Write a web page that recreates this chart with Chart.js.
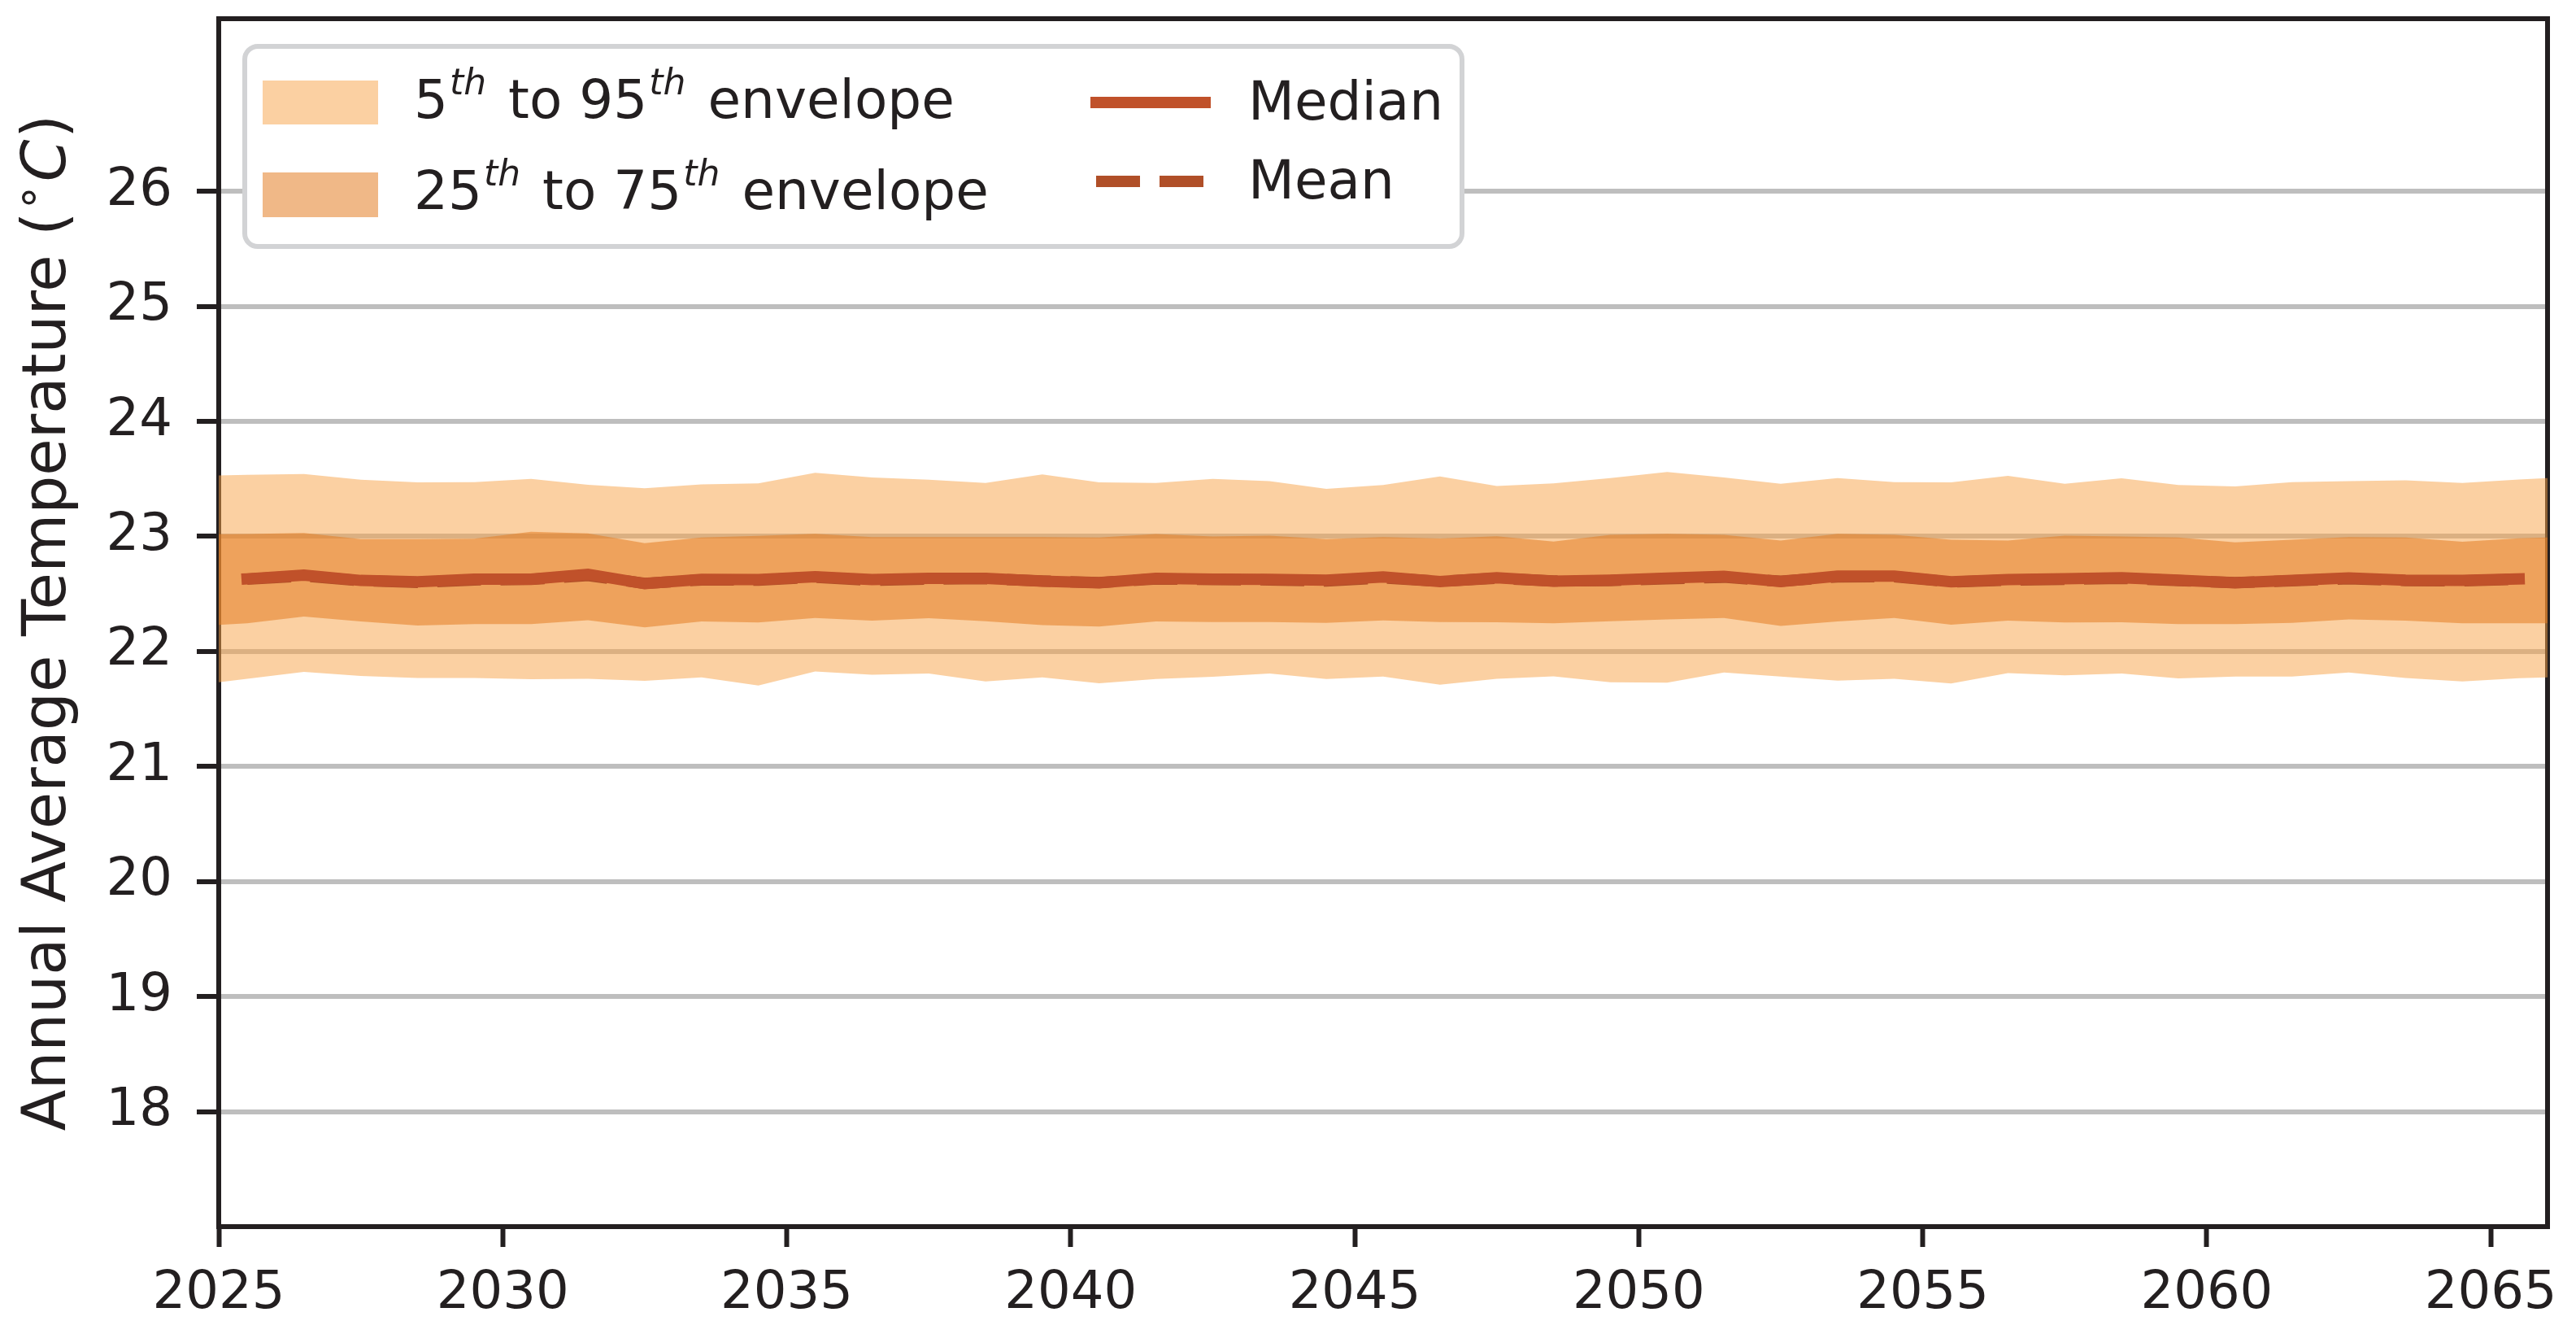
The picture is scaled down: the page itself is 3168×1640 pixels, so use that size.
<!DOCTYPE html>
<html>
<head>
<meta charset="utf-8">
<script src="https://cdn.jsdelivr.net/npm/chart.js@4.4.1/dist/chart.umd.min.js"></script>
<style>
  html, body { margin: 0; padding: 0; background: #fff; }
  canvas { display: block; }
</style>
</head>
<body>
<canvas id="myChart" width="3168" height="1640" style="width:3168px;height:1640px"></canvas>
<script>
const ctx = document.getElementById('myChart');

// years of the projection (values sit at mid-year)
const years = [2025, 2026, 2027, 2028, 2029, 2030, 2031, 2032, 2033, 2034,
  2035, 2036, 2037, 2038, 2039, 2040, 2041, 2042, 2043, 2044,
  2045, 2046, 2047, 2048, 2049, 2050, 2051, 2052, 2053, 2054,
  2055, 2056, 2057, 2058, 2059, 2060, 2061, 2062, 2063, 2064, 2065];

// envelopes: value at the left edge, one per year, value at the right edge
const p95 = [23.53, 23.535, 23.542, 23.493, 23.469, 23.472, 23.50, 23.448, 23.418, 23.452, 23.46,
  23.552, 23.512, 23.493, 23.465, 23.538, 23.469, 23.465, 23.50, 23.481, 23.413,
  23.446, 23.521, 23.437, 23.46, 23.507, 23.559, 23.512, 23.458, 23.507, 23.472,
  23.469, 23.526, 23.458, 23.505, 23.446, 23.434, 23.472, 23.481, 23.488, 23.465, 23.495, 23.507];
const p75 = [23.019, 23.02, 23.03, 22.977, 22.977, 22.98, 23.04, 23.026, 22.941, 22.99, 23.005,
  23.023, 22.995, 22.995, 22.995, 22.995, 22.99, 23.02, 23.0, 23.007, 22.977,
  22.995, 22.981, 23.002, 22.955, 23.014, 23.023, 23.014, 22.965, 23.023, 23.014,
  22.972, 22.965, 23.007, 23.0, 22.99, 22.948, 22.972, 22.995, 22.99, 22.953, 22.984, 22.99];
const p25 = [22.23, 22.244, 22.303, 22.261, 22.225, 22.237, 22.237, 22.272, 22.209, 22.26, 22.251,
  22.291, 22.268, 22.289, 22.263, 22.228, 22.216, 22.261, 22.256, 22.256, 22.249,
  22.27, 22.256, 22.254, 22.244, 22.263, 22.279, 22.291, 22.221, 22.261, 22.291,
  22.232, 22.268, 22.251, 22.254, 22.237, 22.237, 22.249, 22.279, 22.268, 22.244, 22.244, 22.244];
const p5 = [21.732, 21.763, 21.822, 21.786, 21.77, 21.77, 21.758, 21.763, 21.744, 21.775, 21.704,
  21.826, 21.798, 21.808, 21.739, 21.775, 21.723, 21.76, 21.779, 21.808, 21.761,
  21.782, 21.711, 21.763, 21.784, 21.732, 21.728, 21.817, 21.782, 21.746, 21.763,
  21.721, 21.812, 21.793, 21.808, 21.765, 21.782, 21.782, 21.817, 21.77, 21.739, 21.768, 21.775];

const median = [22.631, 22.664, 22.617, 22.606, 22.629, 22.629, 22.671, 22.589, 22.626, 22.624,
  22.65, 22.624, 22.636, 22.636, 22.61, 22.596, 22.635, 22.629, 22.627, 22.62,
  22.648, 22.608, 22.641, 22.61, 22.62, 22.638, 22.653, 22.608, 22.655, 22.655,
  22.606, 22.624, 22.631, 22.641, 22.62, 22.596, 22.617, 22.638, 22.62, 22.617, 22.631];
const mean = [22.628, 22.655, 22.615, 22.600, 22.622, 22.626, 22.660, 22.592, 22.622, 22.620,
  22.645, 22.618, 22.630, 22.633, 22.612, 22.598, 22.630, 22.624, 22.622, 22.612,
  22.640, 22.610, 22.636, 22.612, 22.616, 22.632, 22.645, 22.610, 22.648, 22.650,
  22.604, 22.620, 22.626, 22.636, 22.616, 22.598, 22.614, 22.632, 22.616, 22.614, 22.628];

const xTicks = [2025, 2030, 2035, 2040, 2045, 2050, 2055, 2060, 2065];
const yTicks = [18, 19, 20, 21, 22, 23, 24, 25, 26];

const FONT = '"DejaVu Sans", Verdana, sans-serif';
const INK = '#231f20';
const outerColor = 'rgba(247, 162, 70, 0.5)';
const innerColor = 'rgba(228, 126, 37, 0.55)';
const medianColor = '#c0512a';
const meanColor = '#b04f28';

const bandYears = [years[0], ...years.map(y => y + 0.5), years[years.length - 1] + 1];
const band = vals => bandYears.map((x, i) => ({ x: x, y: vals[i] }));
const line = vals => years.map((y, i) => ({ x: y + 0.5, y: vals[i] }));

// frame round the plot area
const framePlugin = {
    id: 'frame',
    beforeDatasetsDraw(chart) {
        const a = chart.chartArea, c = chart.ctx;
        c.save();
        c.strokeStyle = INK;
        c.lineWidth = 6;
        c.strokeRect(a.left, a.top, a.right - a.left, a.bottom - a.top);
        c.restore();
    }
};

// draw a run of text pieces, returns end x
function drawRuns(c, runs, x, y) {
    runs.forEach(r => {
        c.font = r.font;
        x += r.before || 0;
        c.fillText(r.t, x, y - (r.raise || 0));
        x += c.measureText(r.t).width + (r.after || 0);
    });
    return x;
}
function runsWidth(c, runs) {
    let w = 0;
    runs.forEach(r => {
        c.font = r.font;
        w += (r.before || 0) + c.measureText(r.t).width + (r.after || 0);
    });
    return w;
}

// y axis title with italic C
const titlePlugin = {
    id: 'ytitle',
    afterDraw(chart) {
        const a = chart.chartArea, c = chart.ctx;
        const runs = [
            { t: 'Annual Average Temperature (', font: '74px ' + FONT },
            { t: '°', font: '55px ' + FONT, raise: 12, before: 4, after: 6 },
            { t: 'C', font: 'italic 74px ' + FONT },
            { t: ')', font: '74px ' + FONT, before: 2 }
        ];
        c.save();
        c.translate(80, (a.top + a.bottom) / 2);
        c.rotate(-Math.PI / 2);
        c.fillStyle = INK;
        c.textBaseline = 'alphabetic';
        c.textAlign = 'left';
        drawRuns(c, runs, -runsWidth(c, runs) / 2, 0);
        c.restore();
    }
};

// legend in the upper left corner, two columns
const legendPlugin = {
    id: 'boxLegend',
    afterDraw(chart) {
        const a = chart.chartArea, c = chart.ctx;
        const x0 = a.left + 32, y0 = a.top + 34;
        c.save();
        c.beginPath();
        c.roundRect(x0, y0, 1497, 246, 16);
        c.fillStyle = '#ffffff';
        c.fill();
        c.lineWidth = 6;
        c.strokeStyle = '#d2d3d5';
        c.stroke();

        c.fillStyle = outerColor;
        c.fillRect(x0 + 22, y0 + 42, 142, 54);
        c.fillStyle = innerColor;
        c.fillRect(x0 + 22, y0 + 155, 142, 55);

        const reg = '66px ' + FONT, sup = 'italic 44px ' + FONT;
        const th = { t: 'th', font: sup, raise: 29, before: 2, after: 6 };
        c.fillStyle = INK;
        c.textBaseline = 'alphabetic';
        c.textAlign = 'left';
        drawRuns(c, [{ t: '5', font: reg }, th, { t: ' to 95', font: reg }, th,
            { t: ' envelope', font: reg }], x0 + 208, y0 + 88);
        drawRuns(c, [{ t: '25', font: reg }, th, { t: ' to 75', font: reg }, th,
            { t: ' envelope', font: reg }], x0 + 208, y0 + 200);

        c.lineWidth = 14;
        c.strokeStyle = medianColor;
        c.lineCap = 'square';
        c.beginPath();
        c.moveTo(x0 + 1047, y0 + 69);
        c.lineTo(x0 + 1181, y0 + 69);
        c.stroke();
        c.strokeStyle = meanColor;
        c.lineCap = 'butt';
        c.setLineDash([54, 24]);
        c.beginPath();
        c.moveTo(x0 + 1047, y0 + 166);
        c.lineTo(x0 + 1181, y0 + 166);
        c.stroke();
        c.setLineDash([]);

        c.font = reg;
        c.fillText('Median', x0 + 1234, y0 + 90);
        c.fillText('Mean', x0 + 1234, y0 + 187);
        c.restore();
    }
};

// no extra room for half-labels at the scale ends
const noEndPadding = s => {
    s.paddingTop = 0;
    s.paddingBottom = 0;
    s.paddingLeft = 0;
    s.paddingRight = 0;
};

new Chart(ctx, {
    type: 'line',
    data: {
        datasets: [
            { label: '5th to 95th envelope', data: band(p95), fill: 1, backgroundColor: outerColor,
              borderColor: 'transparent', borderWidth: 0, pointRadius: 0, order: 6 },
            { label: '5th', data: band(p5), fill: false, borderColor: 'transparent',
              borderWidth: 0, pointRadius: 0, order: 5 },
            { label: '25th to 75th envelope', data: band(p75), fill: 3, backgroundColor: innerColor,
              borderColor: 'transparent', borderWidth: 0, pointRadius: 0, order: 4 },
            { label: '25th', data: band(p25), fill: false, borderColor: 'transparent',
              borderWidth: 0, pointRadius: 0, order: 3 },
            { label: 'Mean', data: line(mean), fill: false, borderColor: meanColor,
              borderWidth: 14, borderDash: [54, 24], pointRadius: 0, order: 2 },
            { label: 'Median', data: line(median), fill: false, borderColor: medianColor,
              borderWidth: 14, borderCapStyle: 'square', pointRadius: 0, order: 1 }
        ]
    },
    options: {
        responsive: false,
        animation: false,
        devicePixelRatio: 1,
        layout: { padding: { top: 23, right: 35, left: 0, bottom: 0 } },
        plugins: {
            legend: { display: false },
            tooltip: { enabled: false }
        },
        scales: {
            x: {
                type: 'linear',
                min: 2025,
                max: 2066,
                afterBuildTicks: s => { s.ticks = xTicks.map(v => ({ value: v })); },
                afterFit: s => { s.height = 132; noEndPadding(s); },
                border: { display: false },
                grid: { drawOnChartArea: false, tickLength: 25, tickWidth: 6, tickColor: INK },
                ticks: {
                    autoSkip: false, maxRotation: 0, padding: 20, color: INK,
                    font: { family: FONT, size: 64 },
                    callback: v => String(v)
                }
            },
            y: {
                min: 17,
                max: 27.5,
                afterBuildTicks: s => { s.ticks = yTicks.map(v => ({ value: v })); },
                afterFit: s => { s.width = 269; noEndPadding(s); },
                border: { display: false },
                grid: { color: '#bebebe', lineWidth: 6, tickLength: 27, tickWidth: 6, tickColor: INK },
                ticks: {
                    padding: 30, color: INK,
                    font: { family: FONT, size: 64 },
                    callback: v => String(v)
                }
            }
        }
    },
    plugins: [framePlugin, titlePlugin, legendPlugin]
});
</script>
</body>
</html>
